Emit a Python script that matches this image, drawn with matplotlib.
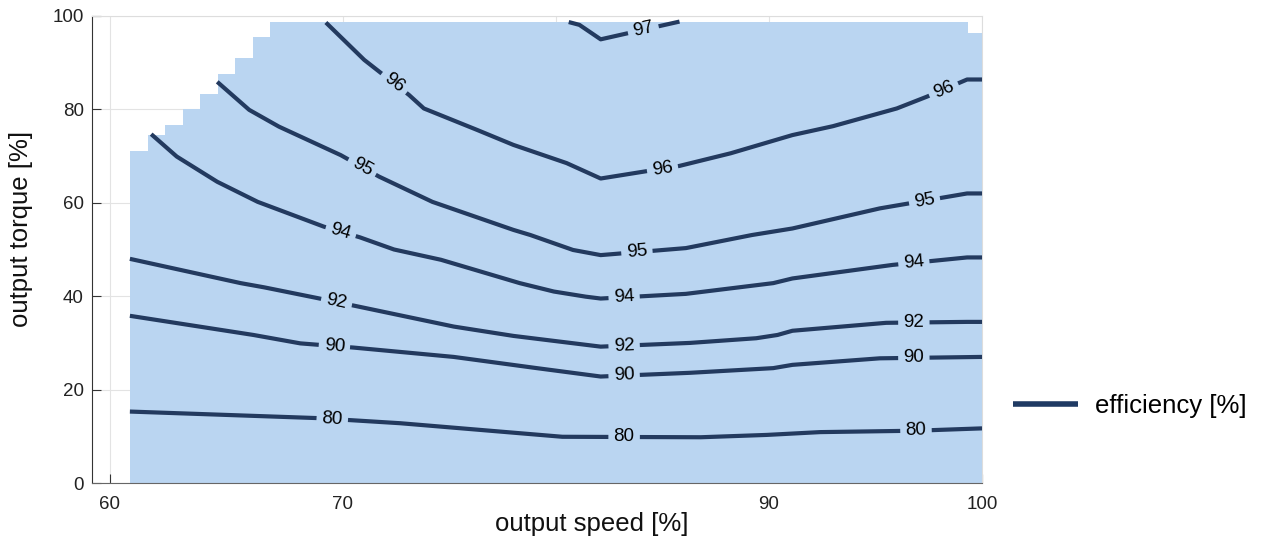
import numpy as np
import matplotlib
matplotlib.use("Agg")
import matplotlib.pyplot as plt
from matplotlib.lines import Line2D
from matplotlib.patches import PathPatch

plt.rcParams["font.family"] = ["Liberation Sans", "DejaVu Sans"]

# operating area (upper torque limit per speed bin)
area_speed = [60.0, 60.83, 61.67, 62.49, 63.30, 64.12, 64.94, 65.77, 66.59, 99.34, 100.0]
area_torque = [71.1, 74.5, 76.6, 80.0, 83.3, 87.6, 91.0, 95.6, 98.7, 96.4, 96.4]

# efficiency iso-lines: level -> (speed, torque)
eff_80_x = [60.0, 68.8, 72.7, 80.3, 86.8, 89.9, 92.4, 96.9, 100.0]
eff_80_y = [15.3, 13.9, 12.8, 9.9, 9.8, 10.3, 10.9, 11.2, 11.7]

eff_90_x = [60.0, 65.8, 68.0, 70.5, 75.2, 79.1, 82.1, 86.3, 90.2, 91.1, 95.2, 100.0]
eff_90_y = [35.8, 31.7, 29.9, 29.0, 27.0, 24.6, 22.8, 23.6, 24.6, 25.3, 26.7, 27.0]

eff_92_x = [60.0, 65.2, 66.3, 68.8, 70.6, 75.2, 78.0, 82.1, 86.3, 89.4, 90.4, 91.1, 95.5, 99.3, 100.0]
eff_92_y = [48.0, 42.8, 41.9, 39.6, 37.9, 33.5, 31.5, 29.2, 30.0, 31.0, 31.7, 32.6, 34.3, 34.5, 34.5]

eff_94_x = [61.0, 62.2, 64.1, 66.0, 69.1, 70.8, 72.4, 74.6, 78.3, 79.9, 81.4, 82.1,
            86.1, 90.2, 91.1, 95.8, 99.3, 100.0]
eff_94_y = [74.7, 69.9, 64.5, 60.2, 54.9, 52.6, 50.0, 47.8, 42.8, 41.0, 39.9, 39.5,
            40.5, 42.8, 43.8, 46.7, 48.3, 48.3]

eff_95_x = [64.1, 65.6, 67.0, 69.9, 71.7, 74.2, 78.0, 78.8, 80.8, 82.1, 86.1, 89.2,
            91.1, 95.2, 99.3, 100.0]
eff_95_y = [85.9, 79.9, 76.3, 70.2, 65.6, 60.2, 54.2, 53.1, 49.9, 48.8, 50.3, 53.1,
            54.5, 58.8, 62.0, 62.0]

eff_96_x = [69.2, 71.0, 71.7, 73.1, 73.8, 76.3, 78.0, 80.5, 82.1, 85.8, 88.2, 91.1,
            93.0, 96.0, 97.4, 99.3, 100.0]
eff_96_y = [98.6, 90.6, 88.1, 83.1, 80.2, 75.6, 72.4, 68.5, 65.2, 67.9, 70.6, 74.5,
            76.4, 80.2, 82.7, 86.4, 86.4]

eff_97_x = [80.6, 81.1, 82.1, 85.8]
eff_97_y = [98.7, 98.1, 95.0, 98.8]

levels = ["80", "90", "92", "94", "95", "96", "97"]
lines_x = [eff_80_x, eff_90_x, eff_92_x, eff_94_x, eff_95_x, eff_96_x, eff_97_x]
lines_y = [eff_80_y, eff_90_y, eff_92_y, eff_94_y, eff_95_y, eff_96_y, eff_97_y]
label_at = [
    [69.5, 83.2, 96.9],
    [69.6, 83.2, 96.8],
    [69.7, 83.2, 96.8],
    [69.9, 83.2, 96.8],
    [70.9, 83.8, 97.3],
    [72.4, 85.0, 98.2],
    [84.1],
]

x_ticks = [59.06, 70, 80, 90, 100]
x_tick_labels = ["60", "70", "80", "90", "100"]
y_ticks = [0, 20, 40, 60, 80, 100]

fill_color = "#bad5f1"
line_color = "#233a5f"

fig = plt.figure(figsize=(12.65, 5.38), dpi=100)
ax = fig.add_axes([0.0727, 0.1022, 0.7036, 0.8681])

area = ax.fill_between(area_speed, 0, area_torque, step="post", color=fill_color, lw=0, zorder=1)
area_clip = PathPatch(area.get_paths()[0], transform=ax.transData)

for xs, ys in zip(lines_x, lines_y):
    ax.plot(xs, ys, color=line_color, lw=3, solid_capstyle="butt", zorder=3)

ax.set_xlim(58.22, 100)
ax.set_ylim(0, 100)

for lev, xs, ys, pos in zip(levels, lines_x, lines_y, label_at):
    for x0 in pos:
        y0 = np.interp(x0, xs, ys)
        p1 = ax.transData.transform((x0 - 0.4, np.interp(x0 - 0.4, xs, ys)))
        p2 = ax.transData.transform((x0 + 0.4, np.interp(x0 + 0.4, xs, ys)))
        ang = np.degrees(np.arctan2(p2[1] - p1[1], p2[0] - p1[0]))
        t = ax.text(x0, y0, lev, fontsize=13.5, rotation=ang, rotation_mode="anchor",
                    ha="center", va="center", color="black", zorder=4, clip_on=True,
                    bbox=dict(boxstyle="square,pad=0.28", fc=fill_color, ec="none"))
        t.set_clip_path(area_clip)

ax.set_xticks(x_ticks)
ax.set_xticklabels(x_tick_labels)
ax.set_yticks(y_ticks)
ax.tick_params(direction="in", length=6.5, width=0.8, color="#333333",
               labelsize=13.5, labelcolor="#222222")
ax.tick_params(axis="x", pad=9)
ax.tick_params(axis="y", pad=6)

ax.grid(True, color="#e3e3e3", lw=0.8)
ax.set_axisbelow(True)

ax.spines["left"].set_color("#333333")
ax.spines["bottom"].set_color("#666666")
ax.spines["top"].set_color("#dddddd")
ax.spines["right"].set_color("#dddddd")

ax.set_xlabel("output speed [%]", fontsize=18.5, color="#111111",
              bbox=dict(boxstyle="square,pad=0.7", fc="white", ec="none"))
ax.xaxis.set_label_coords(0.562, -0.062)
ax.set_ylabel("output torque [%]", fontsize=18.5, color="#111111")
ax.yaxis.set_label_coords(-0.066, 0.543)

handle = Line2D([], [], color="#1f3a63", lw=4, solid_capstyle="butt")
fig.legend(handles=[handle], labels=["efficiency [%]"], loc="center left",
           bbox_to_anchor=(0.801, 0.2454), frameon=False, fontsize=18.5,
           handlelength=2.5, handletextpad=0.7, borderpad=0, borderaxespad=0)

fig.savefig("out.png", dpi=100)
